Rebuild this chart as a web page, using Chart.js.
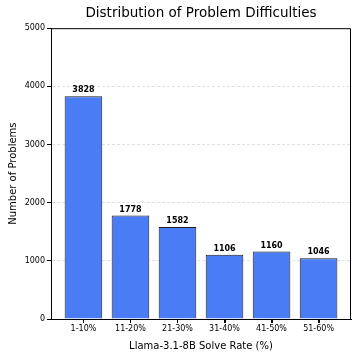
<!DOCTYPE html>
<html>
<head>
<meta charset="utf-8">
<script src="https://cdn.jsdelivr.net/npm/chart.js@4/dist/chart.umd.min.js"></script>
<style>
  html, body { margin: 0; padding: 0; background: #fff; }
  #wrap { width: 357px; height: 357px; }
</style>
</head>
<body>
<div id="wrap"><canvas id="difficultyChart" width="357" height="357"></canvas></div>
<script>
// Data
const solveRates = ['1-10%', '11-20%', '21-30%', '31-40%', '41-50%', '51-60%'];
const problemCounts = [3828, 1778, 1582, 1106, 1160, 1046];
const yTicks = [0, 1000, 2000, 3000, 4000, 5000];

Chart.defaults.font.family = "'DejaVu Sans', sans-serif";
Chart.defaults.color = '#000';

// Top/right spines and x tick marks like matplotlib
const frameBox = {
    id: 'frameBox',
    afterDraw(chart) {
        const { ctx, chartArea: a } = chart;
        const xScale = chart.scales.x;
        ctx.save();
        ctx.strokeStyle = '#000';
        ctx.lineWidth = 1;
        ctx.beginPath();
        ctx.moveTo(a.left, a.top + 0.5);
        ctx.lineTo(a.right - 0.5, a.top + 0.5);
        ctx.lineTo(a.right - 0.5, a.bottom);
        solveRates.forEach((_, i) => {
            const px = Math.round(xScale.getPixelForValue(i)) + 0.5;
            ctx.moveTo(px, a.bottom);
            ctx.lineTo(px, a.bottom + 4);
        });
        ctx.stroke();
        ctx.restore();
    }
};

// Value labels above each bar
const barValues = {
    id: 'barValues',
    afterDatasetsDraw(chart) {
        const { ctx } = chart;
        const meta = chart.getDatasetMeta(0);
        ctx.save();
        ctx.font = "bold 8px 'DejaVu Sans'";
        ctx.fillStyle = '#000';
        ctx.textAlign = 'center';
        ctx.textBaseline = 'bottom';
        meta.data.forEach((bar, i) => {
            ctx.fillText(String(problemCounts[i]), bar.x, bar.y - 2);
        });
        ctx.restore();
    }
};

const ctx = document.getElementById('difficultyChart').getContext('2d');
const chart = new Chart(ctx, {
    type: 'bar',
    data: {
        datasets: [{
            data: problemCounts.map((v, i) => ({ x: i, y: v })),
            backgroundColor: '#4a7df5',
            borderColor: '#1a1a1a',
            borderWidth: 1,
            barPercentage: 0.8,
            categoryPercentage: 1.0
        }]
    },
    options: {
        responsive: false,
        animation: false,
        layout: { padding: { left: 0, right: 6, top: 0, bottom: 0 } },
        plugins: {
            legend: { display: false },
            tooltip: { enabled: false },
            title: {
                display: true,
                fullSize: false,
                text: 'Distribution of Problem Difficulties',
                color: '#000',
                font: { size: 13.5, weight: 'normal' },
                padding: { top: 5, bottom: 7 }
            }
        },
        scales: {
            x: {
                type: 'linear',
                min: -0.69,
                max: 5.69,
                offset: false,
                afterFit(scale) { scale.height = 38; },
                afterBuildTicks(scale) {
                    scale.ticks = solveRates.map((_, i) => ({ value: i }));
                },
                ticks: {
                    font: { size: 8 },
                    padding: 1,
                    maxRotation: 0,
                    autoSkip: false,
                    callback: (v) => solveRates[v] ?? ''
                },
                grid: {
                    offset: false,
                    drawOnChartArea: false,
                    drawTicks: true,
                    tickLength: 4,
                    tickColor: '#000'
                },
                border: { color: '#000', width: 1 },
                title: {
                    display: true,
                    text: 'Llama-3.1-8B Solve Rate (%)',
                    font: { size: 10 },
                    padding: { top: 0, bottom: 5 }
                }
            },
            y: {
                min: 0,
                max: 5000,
                afterFit(scale) { scale.width = 51; },
                afterBuildTicks(scale) {
                    scale.ticks = yTicks.map(v => ({ value: v }));
                },
                ticks: {
                    font: { size: 8 },
                    padding: 2,
                    callback: (v) => String(v)
                },
                grid: {
                    color: 'rgba(0,0,0,0.12)',
                    tickBorderDash: [],
                    tickColor: '#000',
                    tickLength: 4
                },
                border: { color: '#000', width: 1, dash: [3, 2] },
                title: {
                    display: true,
                    text: 'Number of Problems',
                    font: { size: 10 },
                    padding: { top: 7, bottom: 0 }
                }
            }
        }
    },
    plugins: [frameBox, barValues]
});
</script>
</body>
</html>
